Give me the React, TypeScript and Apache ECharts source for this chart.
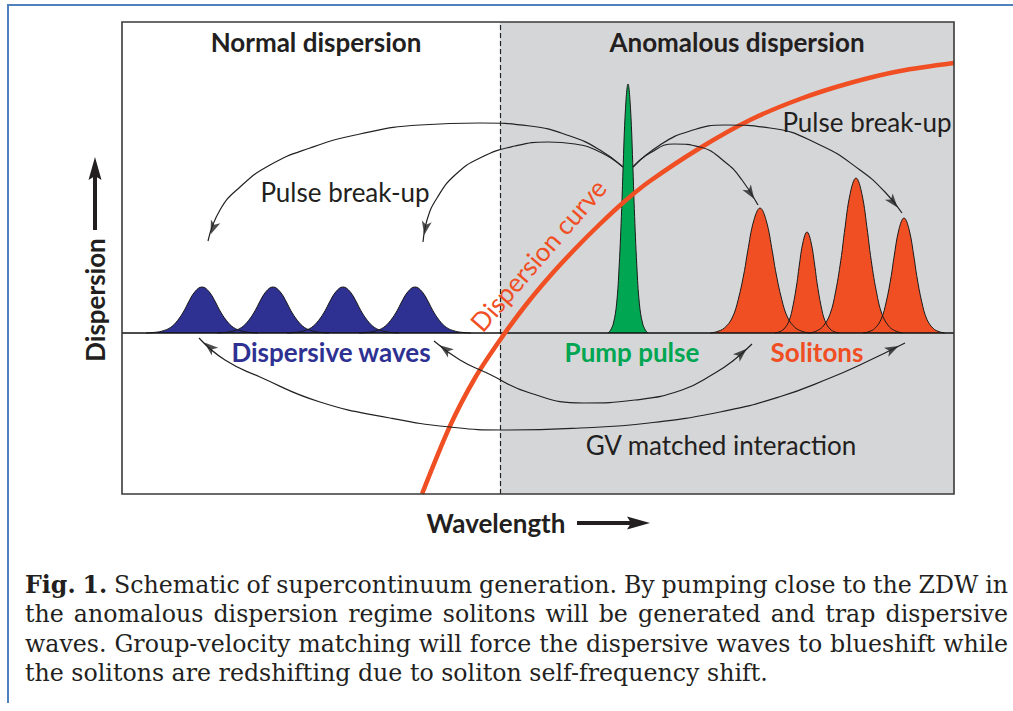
import React, { useEffect, useRef } from 'react';
import * as echarts from 'echarts';

// Data space: x = wavelength (0..832), y = dispersion (-161..311); y = 0 is the zero-dispersion baseline
const X_MIN = 0;
const X_MAX = 832;
const Y_MIN = -161;
const Y_MAX = 311;
const ZDW_X = 378;

// normalised pulse profile: [offset in half-widths, fraction of peak]
const PULSE_PROFILE: [number, number][] = [
  [-3.2, 0], [-2.8, 0.01], [-2.3, 0.04], [-1.8, 0.12], [-1.4, 0.27], [-1, 0.5], [-0.8, 0.65],
  [-0.4, 0.9], [0, 1], [0.4, 0.9], [0.8, 0.65], [1, 0.5], [1.4, 0.27], [1.8, 0.12],
  [2.3, 0.04], [2.8, 0.01], [3.2, 0],
];

const WAVE_CENTERS = [80, 151, 221, 293];
const WAVE_HEIGHTS = [46, 46, 46, 46];
const WAVE_WIDTHS = [17.5, 17.5, 17.5, 17.5];

const PUMP_CENTERS = [506];
const PUMP_HEIGHTS = [249];
const PUMP_WIDTHS = [6.3];

const SOLITON_CENTERS = [638, 685, 734, 782];
const SOLITON_HEIGHTS = [125, 101, 155, 115];
const SOLITON_WIDTHS = [15.5, 10, 14.5, 12.7];

const DISPERSION_CURVE: [number, number][] = [
  [300, -161], [328, -93], [353, -45], [378, -7], [403, 27], [428, 57], [453, 84], [478, 109],
  [503, 132], [528, 152], [578, 185], [628, 213], [678, 234], [728, 250], [778, 262], [832, 270],
];

// annotation arcs (last point = arrow tip; double-headed arcs also start at a tip)
const ARC_BREAKUP_FAR_LEFT: [number, number][] = [
  [501, 166], [478, 183], [448, 197], [408, 207], [358, 210], [298, 208], [238, 199], [188, 185],
  [148, 168], [118, 146], [98, 123], [86, 92],
];
const ARC_BREAKUP_NEAR_LEFT: [number, number][] = [
  [501, 166], [478, 181], [453, 189], [426, 191], [393, 187], [358, 175], [333, 158], [315, 135],
  [305, 113], [301, 91],
];
const ARC_BREAKUP_NEAR_RIGHT: [number, number][] = [
  [511, 166], [528, 180], [552, 189], [578, 186], [603, 171], [620, 153], [636, 128],
];
const ARC_BREAKUP_FAR_RIGHT: [number, number][] = [
  [511, 166], [538, 188], [568, 202], [603, 208], [648, 205], [698, 188], [738, 163], [763, 141],
  [780, 120],
];
const ARC_GV_INNER: [number, number][] = [
  [312, -8], [338, -27], [365, -40], [408, -60], [462, -70], [513, -67], [560, -57], [593, -40],
  [612, -27], [630, -11],
];
const ARC_GV_OUTER: [number, number][] = [
  [77, -5], [103, -27], [138, -44], [198, -69], [268, -85], [328, -94], [381, -97], [458, -95],
  [527, -90], [598, -79], [657, -64], [708, -45], [742, -30], [783, -10],
];

const CAPTION_LINES = [
  'Fig. 1. Schematic of supercontinuum generation. By pumping close to the ZDW in',
  'the anomalous dispersion regime solitons will be generated and trap dispersive',
  'waves. Group-velocity matching will force the dispersive waves to blueshift while',
  'the solitons are redshifting due to soliton self-frequency shift.',
];

const TEXT = '#231f20';
const BLUE = '#2e3192';
const GREEN = '#00a651';
const ORANGE = '#f04e23';
const GRAY = '#d5d6d8';
const SANS = 'Lato, "Open Sans", sans-serif';
const SERIF = '"DejaVu Serif", serif';

function pulse(c: number, h: number, hw: number): [number, number][] {
  return PULSE_PROFILE.map(([u, f]) => [c + u * hw, f * h] as [number, number]);
}

function pulseSeries(centers: number[], heights: number[], widths: number[], color: string, z: number) {
  return centers.map((c, i) => ({
    type: 'line',
    data: pulse(c, heights[i], widths[i]),
    smooth: 0.4,
    symbol: 'none',
    z,
    silent: true,
    lineStyle: { color: '#1a1a1a', width: 1 },
    areaStyle: { color, opacity: 1, origin: 0 },
  }));
}

function arrowHead(tip: [number, number], prev: [number, number], len: number) {
  const dx = tip[0] - prev[0];
  const dy = tip[1] - prev[1];
  const d = Math.sqrt(dx * dx + dy * dy) || 1;
  const ux = dx / d;
  const uy = dy / d;
  return {
    value: [tip[0] - (ux * len) / 2, tip[1] - (uy * len) / 2],
    symbolRotate: (Math.atan2(dy, dx) * 180) / Math.PI - 90,
  };
}

function measure(text: string, font: string): number {
  const cv = document.createElement('canvas');
  const ctx = cv.getContext('2d');
  if (!ctx) return text.length * 10;
  ctx.font = font;
  return ctx.measureText(text).width;
}

function captionElements(): any[] {
  const left = 25;
  const right = 1008;
  const lastLineWidth = 743;
  const base = measure(CAPTION_LINES[3], `20px ${SERIF}`);
  const size = (20 * lastLineWidth) / base;
  const reg = `${size.toFixed(2)}px ${SERIF}`;
  const bold = `bold ${size.toFixed(2)}px ${SERIF}`;
  const ys = [585, 614, 644, 673];
  const els: any[] = [];
  CAPTION_LINES.forEach((line, li) => {
    const words = line.split(' ');
    const fonts = words.map((w, wi) => (li === 0 && wi < 2 ? bold : reg));
    if (li === CAPTION_LINES.length - 1) {
      let x = left;
      const sp = measure(' ', reg);
      words.forEach((w, wi) => {
        els.push({
          type: 'text', x, y: ys[li], silent: true,
          style: { text: w, font: fonts[wi], fill: TEXT, textVerticalAlign: 'middle', verticalAlign: 'middle' },
        });
        x += measure(w, fonts[wi]) + sp;
      });
      return;
    }
    const widths = words.map((w, wi) => measure(w, fonts[wi]));
    const total = widths.reduce((a, b) => a + b, 0);
    const gap = (right - left - total) / (words.length - 1);
    let x = left;
    words.forEach((w, wi) => {
      els.push({
        type: 'text', x, y: ys[li], silent: true,
        style: { text: w, font: fonts[wi], fill: TEXT, textVerticalAlign: 'middle', verticalAlign: 'middle' },
      });
      x += widths[wi] + gap;
    });
  });
  return els;
}

function label(text: string, x: number, y: number, font: string, fill: string, rotation = 0) {
  return {
    type: 'text', x, y, rotation, silent: true, z: 50,
    style: {
      text, font, fill,
      textAlign: 'center', align: 'center',
      textVerticalAlign: 'middle', verticalAlign: 'middle',
    },
  };
}

export default function App() {
  const ref = useRef<HTMLDivElement>(null);

  useEffect(() => {
    if (!ref.current) return;
    const chart = echarts.init(ref.current, undefined, { renderer: 'svg' });

    const arcs = [
      ARC_BREAKUP_FAR_LEFT, ARC_BREAKUP_NEAR_LEFT, ARC_BREAKUP_NEAR_RIGHT, ARC_BREAKUP_FAR_RIGHT,
      ARC_GV_INNER, ARC_GV_OUTER,
    ];
    const headLen = 14;
    const heads: any[] = [];
    arcs.forEach((a, i) => {
      heads.push(arrowHead(a[a.length - 1], a[a.length - 2], headLen));
      if (i >= 4) heads.push(arrowHead(a[0], a[1], headLen));
    });

    const option: any = {
      animation: false,
      backgroundColor: '#ffffff',
      grid: { left: 122, top: 22, width: 832, height: 472, show: false },
      xAxis: { type: 'value', min: X_MIN, max: X_MAX, show: false },
      yAxis: { type: 'value', min: Y_MIN, max: Y_MAX, show: false },
      series: [
        {
          type: 'line', data: [], z: 1, silent: true,
          markArea: {
            silent: true,
            itemStyle: { color: GRAY },
            data: [[{ xAxis: ZDW_X }, { xAxis: X_MAX }]],
          },
          markLine: {
            silent: true, symbol: ['none', 'none'], label: { show: false },
            lineStyle: { color: '#222', width: 1.2, type: [5, 3] },
            data: [{ xAxis: ZDW_X }],
          },
        },
        ...pulseSeries(WAVE_CENTERS, WAVE_HEIGHTS, WAVE_WIDTHS, BLUE, 3),
        ...pulseSeries(PUMP_CENTERS, PUMP_HEIGHTS, PUMP_WIDTHS, GREEN, 3),
        ...pulseSeries(SOLITON_CENTERS, SOLITON_HEIGHTS, SOLITON_WIDTHS, ORANGE, 3),
        {
          type: 'line', data: [], z: 6, silent: true,
          markLine: {
            silent: true, symbol: ['none', 'none'], label: { show: false },
            lineStyle: { color: '#111', width: 1.5, type: 'solid' },
            data: [{ yAxis: 0 }],
          },
        },
        {
          type: 'line', data: DISPERSION_CURVE, smooth: 0.3, symbol: 'none', z: 7, silent: true,
          lineStyle: { color: ORANGE, width: 4.5 },
        },
        ...arcs.map((a) => ({
          type: 'line', data: a, smooth: 0.5, symbol: 'none', z: 8, silent: true,
          lineStyle: { color: '#222', width: 1.2 },
        })),
        {
          type: 'scatter', data: heads, symbol: 'arrow', symbolSize: [7.5, headLen], z: 9, silent: true,
          itemStyle: { color: '#222' },
        },
      ],
      graphic: [
        {
          type: 'polyline', silent: true, z: 40,
          shape: { points: [[8, 703], [8, 5], [1013, 5]] },
          style: { stroke: '#4f81bd', lineWidth: 2, fill: 'none' },
        },
        {
          type: 'rect', silent: true, z: 40,
          shape: { x: 122, y: 22, width: 832, height: 472 },
          style: { stroke: '#3a3a3a', lineWidth: 1.6, fill: 'none' },
        },
        label('Normal dispersion', 316, 42, `bold 26px ${SANS}`, TEXT),
        label('Anomalous dispersion', 737, 42, `bold 26px ${SANS}`, TEXT),
        label('Pulse break-up', 345, 192, `26px ${SANS}`, TEXT),
        label('Pulse break-up', 867, 122, `26px ${SANS}`, TEXT),
        label('Dispersive waves', 331, 352, `bold 26px ${SANS}`, BLUE),
        label('Pump pulse', 632, 352, `bold 26px ${SANS}`, GREEN),
        label('Solitons', 817, 352, `bold 26px ${SANS}`, ORANGE),
        label('GV matched interaction', 721, 445, `26px ${SANS}`, TEXT),
        label('Dispersion curve', 538, 255, `26px ${SANS}`, ORANGE, 0.855),
        label('Wavelength', 496, 523, `bold 26px ${SANS}`, TEXT),
        label('Dispersion', 95, 300, `bold 26px ${SANS}`, TEXT, Math.PI / 2),
        {
          type: 'line', silent: true, z: 50,
          shape: { x1: 95, y1: 230, x2: 95, y2: 175 },
          style: { stroke: TEXT, lineWidth: 4 },
        },
        {
          type: 'polygon', silent: true, z: 50,
          shape: { points: [[95, 157], [101.5, 180], [95, 176], [88.5, 180]] },
          style: { fill: TEXT },
        },
        {
          type: 'line', silent: true, z: 50,
          shape: { x1: 577, y1: 523, x2: 632, y2: 523 },
          style: { stroke: TEXT, lineWidth: 4 },
        },
        {
          type: 'polygon', silent: true, z: 50,
          shape: { points: [[650, 523], [627, 516.5], [631, 523], [627, 529.5]] },
          style: { fill: TEXT },
        },
        ...captionElements(),
      ],
    };

    chart.setOption(option);
    return () => {
      chart.dispose();
    };
  }, []);

  return (
    <div
      ref={ref}
      style={{ position: 'fixed', left: 0, top: 0, width: 1013, height: 711, background: '#fff' }}
    />
  );
}
